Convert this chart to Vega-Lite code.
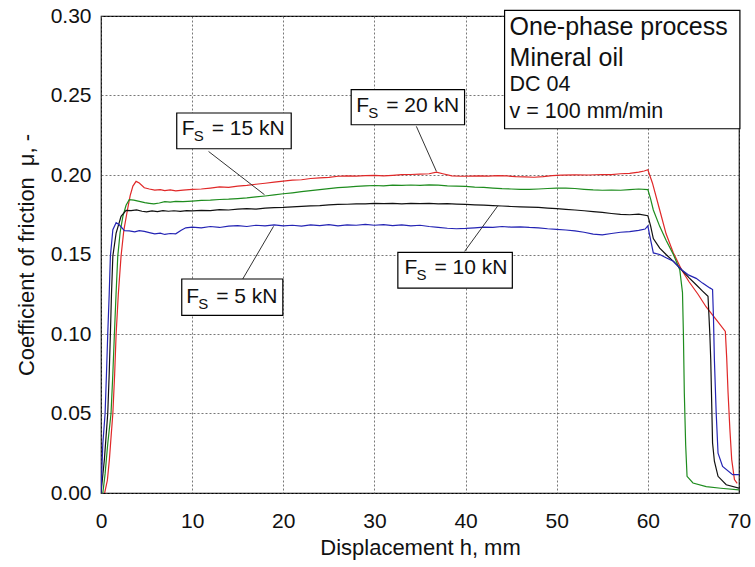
{
  "$schema": "https://vega.github.io/schema/vega-lite/v6.json",
  "width": 638,
  "height": 477,
  "autosize": {"type": "none"},
  "padding": {"left": 101, "top": 16, "right": 16, "bottom": 74},
  "background": "white",
  "config": {
    "font": "Liberation Sans",
    "view": {"stroke": "black", "strokeWidth": 1.2},
    "axis": {
      "domain": false,
      "ticks": false,
      "grid": true,
      "labelFlush": false,
      "gridColor": "#555555",
      "gridDash": [2, 2],
      "gridWidth": 0.8,
      "labelFont": "Liberation Sans",
      "labelFontSize": 21,
      "labelColor": "#111111",
      "titleFont": "Liberation Sans",
      "titleFontSize": 22,
      "titleFontWeight": "normal",
      "titleColor": "#111111"
    }
  },
  "datasets": {
    "curves": [
      {"s":"20 kN","h":0.4,"mu":0.0},{"s":"20 kN","h":0.7,"mu":0.008},{"s":"20 kN","h":0.92,"mu":0.021},{"s":"20 kN","h":1.1,"mu":0.035},{"s":"20 kN","h":1.3,"mu":0.05},{"s":"20 kN","h":1.5,"mu":0.075},{"s":"20 kN","h":1.66,"mu":0.1},{"s":"20 kN","h":1.9,"mu":0.125},{"s":"20 kN","h":2.2,"mu":0.149},{"s":"20 kN","h":2.5,"mu":0.165},{"s":"20 kN","h":2.9,"mu":0.178},{"s":"20 kN","h":3.2,"mu":0.187},{"s":"20 kN","h":3.5,"mu":0.193},{"s":"20 kN","h":3.85,"mu":0.196},{"s":"20 kN","h":4.2,"mu":0.195},{"s":"20 kN","h":4.75,"mu":0.192},{"s":"20 kN","h":5.3,"mu":0.1912},{"s":"20 kN","h":5.9,"mu":0.1905},{"s":"20 kN","h":6.5,"mu":0.1908},{"s":"20 kN","h":7.0,"mu":0.1902},{"s":"20 kN","h":7.6,"mu":0.1906},{"s":"20 kN","h":8.2,"mu":0.19},{"s":"20 kN","h":9.0,"mu":0.1905},{"s":"20 kN","h":10,"mu":0.191},{"s":"20 kN","h":11,"mu":0.1912},{"s":"20 kN","h":12,"mu":0.1918},{"s":"20 kN","h":13,"mu":0.1925},{"s":"20 kN","h":14,"mu":0.1922},{"s":"20 kN","h":15,"mu":0.193},{"s":"20 kN","h":16,"mu":0.1935},{"s":"20 kN","h":17,"mu":0.1942},{"s":"20 kN","h":18,"mu":0.1948},{"s":"20 kN","h":19,"mu":0.1955},{"s":"20 kN","h":20,"mu":0.1962},{"s":"20 kN","h":21,"mu":0.1968},{"s":"20 kN","h":22,"mu":0.197},{"s":"20 kN","h":23,"mu":0.1978},{"s":"20 kN","h":24,"mu":0.1982},{"s":"20 kN","h":25,"mu":0.1985},{"s":"20 kN","h":26,"mu":0.1992},{"s":"20 kN","h":27,"mu":0.1995},{"s":"20 kN","h":28,"mu":0.1993},{"s":"20 kN","h":29,"mu":0.1996},{"s":"20 kN","h":30,"mu":0.1998},{"s":"20 kN","h":31,"mu":0.1995},{"s":"20 kN","h":32,"mu":0.1998},{"s":"20 kN","h":33,"mu":0.2002},{"s":"20 kN","h":34,"mu":0.2003},{"s":"20 kN","h":35,"mu":0.2005},{"s":"20 kN","h":36,"mu":0.2008},{"s":"20 kN","h":36.8,"mu":0.2018},{"s":"20 kN","h":37.5,"mu":0.2008},{"s":"20 kN","h":38.5,"mu":0.1995},{"s":"20 kN","h":39.5,"mu":0.1992},{"s":"20 kN","h":40.5,"mu":0.1993},{"s":"20 kN","h":41.5,"mu":0.1995},{"s":"20 kN","h":42.5,"mu":0.1993},{"s":"20 kN","h":43.5,"mu":0.1996},{"s":"20 kN","h":44.5,"mu":0.1994},{"s":"20 kN","h":45.5,"mu":0.199},{"s":"20 kN","h":46.5,"mu":0.1988},{"s":"20 kN","h":47.5,"mu":0.1986},{"s":"20 kN","h":48.5,"mu":0.199},{"s":"20 kN","h":49.5,"mu":0.1996},{"s":"20 kN","h":50.5,"mu":0.1999},{"s":"20 kN","h":52,"mu":0.2001},{"s":"20 kN","h":53.5,"mu":0.2},{"s":"20 kN","h":55,"mu":0.2003},{"s":"20 kN","h":56,"mu":0.2002},{"s":"20 kN","h":57,"mu":0.2008},{"s":"20 kN","h":58,"mu":0.201},{"s":"20 kN","h":59,"mu":0.2018},{"s":"20 kN","h":59.6,"mu":0.2025},{"s":"20 kN","h":60.0,"mu":0.2033},{"s":"20 kN","h":60.5,"mu":0.195},{"s":"20 kN","h":61.3,"mu":0.178},{"s":"20 kN","h":62.0,"mu":0.163},{"s":"20 kN","h":62.8,"mu":0.151},{"s":"20 kN","h":63.7,"mu":0.1404},{"s":"20 kN","h":64.5,"mu":0.133},{"s":"20 kN","h":65.5,"mu":0.125},{"s":"20 kN","h":66.4,"mu":0.117},{"s":"20 kN","h":67.5,"mu":0.109},{"s":"20 kN","h":68.5,"mu":0.1016},{"s":"20 kN","h":68.65,"mu":0.085},{"s":"20 kN","h":68.8,"mu":0.063},{"s":"20 kN","h":69.0,"mu":0.04},{"s":"20 kN","h":69.2,"mu":0.021},{"s":"20 kN","h":69.5,"mu":0.0084},{"s":"20 kN","h":69.8,"mu":0.006},

      {"s":"15 kN","h":0.2,"mu":0.0},{"s":"15 kN","h":0.45,"mu":0.012},{"s":"15 kN","h":0.74,"mu":0.031},{"s":"15 kN","h":1.1,"mu":0.05},{"s":"15 kN","h":1.3,"mu":0.075},{"s":"15 kN","h":1.47,"mu":0.1},{"s":"15 kN","h":1.65,"mu":0.125},{"s":"15 kN","h":1.84,"mu":0.149},{"s":"15 kN","h":2.1,"mu":0.164},{"s":"15 kN","h":2.4,"mu":0.174},{"s":"15 kN","h":2.75,"mu":0.181},{"s":"15 kN","h":3.1,"mu":0.1845},{"s":"15 kN","h":3.6,"mu":0.1842},{"s":"15 kN","h":4.2,"mu":0.1834},{"s":"15 kN","h":4.8,"mu":0.1826},{"s":"15 kN","h":5.3,"mu":0.1822},{"s":"15 kN","h":5.8,"mu":0.1818},{"s":"15 kN","h":6.4,"mu":0.1824},{"s":"15 kN","h":7.0,"mu":0.1832},{"s":"15 kN","h":7.6,"mu":0.183},{"s":"15 kN","h":8.2,"mu":0.1834},{"s":"15 kN","h":9,"mu":0.1832},{"s":"15 kN","h":10,"mu":0.1836},{"s":"15 kN","h":11,"mu":0.184},{"s":"15 kN","h":12,"mu":0.1842},{"s":"15 kN","h":13,"mu":0.1846},{"s":"15 kN","h":14,"mu":0.1848},{"s":"15 kN","h":15,"mu":0.1852},{"s":"15 kN","h":16,"mu":0.1856},{"s":"15 kN","h":17,"mu":0.1862},{"s":"15 kN","h":18,"mu":0.1868},{"s":"15 kN","h":19,"mu":0.1875},{"s":"15 kN","h":20,"mu":0.1882},{"s":"15 kN","h":21,"mu":0.1888},{"s":"15 kN","h":22,"mu":0.1895},{"s":"15 kN","h":23,"mu":0.1902},{"s":"15 kN","h":24,"mu":0.1908},{"s":"15 kN","h":25,"mu":0.1914},{"s":"15 kN","h":26,"mu":0.192},{"s":"15 kN","h":27,"mu":0.1924},{"s":"15 kN","h":28,"mu":0.1928},{"s":"15 kN","h":29,"mu":0.1932},{"s":"15 kN","h":30,"mu":0.1934},{"s":"15 kN","h":31,"mu":0.1932},{"s":"15 kN","h":32,"mu":0.1936},{"s":"15 kN","h":33,"mu":0.1935},{"s":"15 kN","h":34,"mu":0.1937},{"s":"15 kN","h":35,"mu":0.1935},{"s":"15 kN","h":36,"mu":0.1938},{"s":"15 kN","h":37,"mu":0.1936},{"s":"15 kN","h":38,"mu":0.1932},{"s":"15 kN","h":39,"mu":0.193},{"s":"15 kN","h":40,"mu":0.1928},{"s":"15 kN","h":41,"mu":0.1924},{"s":"15 kN","h":42,"mu":0.1922},{"s":"15 kN","h":43,"mu":0.1918},{"s":"15 kN","h":44,"mu":0.1914},{"s":"15 kN","h":45,"mu":0.1912},{"s":"15 kN","h":46,"mu":0.191},{"s":"15 kN","h":47,"mu":0.191},{"s":"15 kN","h":48,"mu":0.1912},{"s":"15 kN","h":49,"mu":0.1915},{"s":"15 kN","h":50,"mu":0.1918},{"s":"15 kN","h":51,"mu":0.1918},{"s":"15 kN","h":52,"mu":0.1915},{"s":"15 kN","h":53,"mu":0.191},{"s":"15 kN","h":54,"mu":0.1906},{"s":"15 kN","h":55,"mu":0.1904},{"s":"15 kN","h":56,"mu":0.1905},{"s":"15 kN","h":57,"mu":0.1904},{"s":"15 kN","h":58,"mu":0.1908},{"s":"15 kN","h":59,"mu":0.1912},{"s":"15 kN","h":60,"mu":0.1908},{"s":"15 kN","h":60.3,"mu":0.185},{"s":"15 kN","h":60.6,"mu":0.178},{"s":"15 kN","h":61.3,"mu":0.1677},{"s":"15 kN","h":62.0,"mu":0.159},{"s":"15 kN","h":62.8,"mu":0.15},{"s":"15 kN","h":63.5,"mu":0.1404},{"s":"15 kN","h":63.8,"mu":0.126},{"s":"15 kN","h":63.9,"mu":0.1},{"s":"15 kN","h":64.0,"mu":0.063},{"s":"15 kN","h":64.15,"mu":0.03},{"s":"15 kN","h":64.3,"mu":0.0105},{"s":"15 kN","h":64.95,"mu":0.0063},{"s":"15 kN","h":66.4,"mu":0.004},{"s":"15 kN","h":68,"mu":0.003},{"s":"15 kN","h":70,"mu":0.002},

      {"s":"10 kN","h":0,"mu":0.0},{"s":"10 kN","h":0.37,"mu":0.021},{"s":"10 kN","h":0.74,"mu":0.05},{"s":"10 kN","h":0.9,"mu":0.075},{"s":"10 kN","h":1.03,"mu":0.1},{"s":"10 kN","h":1.15,"mu":0.125},{"s":"10 kN","h":1.3,"mu":0.149},{"s":"10 kN","h":1.66,"mu":0.1635},{"s":"10 kN","h":2.2,"mu":0.174},{"s":"10 kN","h":2.75,"mu":0.1778},{"s":"10 kN","h":3.3,"mu":0.1776},{"s":"10 kN","h":3.9,"mu":0.178},{"s":"10 kN","h":4.5,"mu":0.1772},{"s":"10 kN","h":5.0,"mu":0.1768},{"s":"10 kN","h":5.6,"mu":0.1774},{"s":"10 kN","h":6.2,"mu":0.177},{"s":"10 kN","h":6.8,"mu":0.1776},{"s":"10 kN","h":7.4,"mu":0.1772},{"s":"10 kN","h":8.0,"mu":0.1775},{"s":"10 kN","h":8.7,"mu":0.1771},{"s":"10 kN","h":9.4,"mu":0.1776},{"s":"10 kN","h":10,"mu":0.1774},{"s":"10 kN","h":11,"mu":0.1778},{"s":"10 kN","h":12,"mu":0.1776},{"s":"10 kN","h":13,"mu":0.1782},{"s":"10 kN","h":14,"mu":0.178},{"s":"10 kN","h":15,"mu":0.1785},{"s":"10 kN","h":16,"mu":0.1788},{"s":"10 kN","h":17,"mu":0.1786},{"s":"10 kN","h":18,"mu":0.1792},{"s":"10 kN","h":19,"mu":0.1795},{"s":"10 kN","h":20,"mu":0.1796},{"s":"10 kN","h":21,"mu":0.1799},{"s":"10 kN","h":22,"mu":0.1803},{"s":"10 kN","h":23,"mu":0.1806},{"s":"10 kN","h":24,"mu":0.1808},{"s":"10 kN","h":25,"mu":0.1812},{"s":"10 kN","h":26,"mu":0.1815},{"s":"10 kN","h":27,"mu":0.1816},{"s":"10 kN","h":28,"mu":0.1819},{"s":"10 kN","h":29,"mu":0.1818},{"s":"10 kN","h":30,"mu":0.1821},{"s":"10 kN","h":31,"mu":0.182},{"s":"10 kN","h":32,"mu":0.1822},{"s":"10 kN","h":33,"mu":0.1819},{"s":"10 kN","h":34,"mu":0.1821},{"s":"10 kN","h":35,"mu":0.182},{"s":"10 kN","h":36,"mu":0.1822},{"s":"10 kN","h":37,"mu":0.1818},{"s":"10 kN","h":38,"mu":0.182},{"s":"10 kN","h":39,"mu":0.1817},{"s":"10 kN","h":40,"mu":0.1815},{"s":"10 kN","h":41,"mu":0.1812},{"s":"10 kN","h":42,"mu":0.181},{"s":"10 kN","h":43,"mu":0.1808},{"s":"10 kN","h":44,"mu":0.1805},{"s":"10 kN","h":45,"mu":0.1802},{"s":"10 kN","h":46,"mu":0.18},{"s":"10 kN","h":47,"mu":0.1798},{"s":"10 kN","h":48,"mu":0.1796},{"s":"10 kN","h":49,"mu":0.1792},{"s":"10 kN","h":50,"mu":0.1788},{"s":"10 kN","h":51,"mu":0.1784},{"s":"10 kN","h":52,"mu":0.178},{"s":"10 kN","h":53,"mu":0.1775},{"s":"10 kN","h":54,"mu":0.177},{"s":"10 kN","h":55,"mu":0.1765},{"s":"10 kN","h":56,"mu":0.1758},{"s":"10 kN","h":57,"mu":0.1752},{"s":"10 kN","h":58,"mu":0.175},{"s":"10 kN","h":59,"mu":0.1754},{"s":"10 kN","h":60,"mu":0.1744},{"s":"10 kN","h":60.3,"mu":0.168},{"s":"10 kN","h":60.6,"mu":0.16},{"s":"10 kN","h":61.3,"mu":0.154},{"s":"10 kN","h":62.0,"mu":0.15},{"s":"10 kN","h":62.8,"mu":0.1457},{"s":"10 kN","h":63.7,"mu":0.1404},{"s":"10 kN","h":64.5,"mu":0.1355},{"s":"10 kN","h":65.3,"mu":0.131},{"s":"10 kN","h":66.0,"mu":0.127},{"s":"10 kN","h":66.6,"mu":0.1237},{"s":"10 kN","h":66.8,"mu":0.1},{"s":"10 kN","h":66.9,"mu":0.0838},{"s":"10 kN","h":67.1,"mu":0.0314},{"s":"10 kN","h":67.3,"mu":0.02},{"s":"10 kN","h":67.7,"mu":0.0105},{"s":"10 kN","h":68.6,"mu":0.0052},{"s":"10 kN","h":70,"mu":0.003},

      {"s":"5 kN","h":0,"mu":0.0},{"s":"5 kN","h":0.2,"mu":0.031},{"s":"5 kN","h":0.45,"mu":0.05},{"s":"5 kN","h":0.6,"mu":0.075},{"s":"5 kN","h":0.74,"mu":0.1},{"s":"5 kN","h":0.9,"mu":0.125},{"s":"5 kN","h":1.03,"mu":0.149},{"s":"5 kN","h":1.3,"mu":0.1656},{"s":"5 kN","h":1.66,"mu":0.17},{"s":"5 kN","h":2.0,"mu":0.1687},{"s":"5 kN","h":2.57,"mu":0.165},{"s":"5 kN","h":3.1,"mu":0.1648},{"s":"5 kN","h":3.7,"mu":0.1642},{"s":"5 kN","h":4.2,"mu":0.165},{"s":"5 kN","h":4.75,"mu":0.1645},{"s":"5 kN","h":5.3,"mu":0.1638},{"s":"5 kN","h":5.9,"mu":0.163},{"s":"5 kN","h":6.5,"mu":0.1634},{"s":"5 kN","h":7.0,"mu":0.1626},{"s":"5 kN","h":7.6,"mu":0.1632},{"s":"5 kN","h":8.2,"mu":0.163},{"s":"5 kN","h":8.8,"mu":0.1652},{"s":"5 kN","h":9.3,"mu":0.1668},{"s":"5 kN","h":10,"mu":0.1672},{"s":"5 kN","h":11,"mu":0.1668},{"s":"5 kN","h":12,"mu":0.1676},{"s":"5 kN","h":13,"mu":0.167},{"s":"5 kN","h":14,"mu":0.1678},{"s":"5 kN","h":15,"mu":0.1682},{"s":"5 kN","h":16,"mu":0.1676},{"s":"5 kN","h":17,"mu":0.1684},{"s":"5 kN","h":18,"mu":0.168},{"s":"5 kN","h":19,"mu":0.1686},{"s":"5 kN","h":20,"mu":0.168},{"s":"5 kN","h":21,"mu":0.1684},{"s":"5 kN","h":22,"mu":0.1678},{"s":"5 kN","h":23,"mu":0.1686},{"s":"5 kN","h":24,"mu":0.1682},{"s":"5 kN","h":25,"mu":0.1688},{"s":"5 kN","h":26,"mu":0.168},{"s":"5 kN","h":27,"mu":0.1686},{"s":"5 kN","h":28,"mu":0.1684},{"s":"5 kN","h":29,"mu":0.169},{"s":"5 kN","h":30,"mu":0.1684},{"s":"5 kN","h":31,"mu":0.1688},{"s":"5 kN","h":32,"mu":0.1682},{"s":"5 kN","h":33,"mu":0.1686},{"s":"5 kN","h":34,"mu":0.168},{"s":"5 kN","h":35,"mu":0.1684},{"s":"5 kN","h":36,"mu":0.1676},{"s":"5 kN","h":37,"mu":0.167},{"s":"5 kN","h":38,"mu":0.1665},{"s":"5 kN","h":39,"mu":0.1662},{"s":"5 kN","h":40,"mu":0.1664},{"s":"5 kN","h":41,"mu":0.1668},{"s":"5 kN","h":42,"mu":0.1672},{"s":"5 kN","h":43,"mu":0.167},{"s":"5 kN","h":44,"mu":0.1676},{"s":"5 kN","h":45,"mu":0.1672},{"s":"5 kN","h":46,"mu":0.1674},{"s":"5 kN","h":47,"mu":0.167},{"s":"5 kN","h":48,"mu":0.1668},{"s":"5 kN","h":49,"mu":0.1662},{"s":"5 kN","h":50,"mu":0.1658},{"s":"5 kN","h":51,"mu":0.1654},{"s":"5 kN","h":52,"mu":0.1648},{"s":"5 kN","h":53,"mu":0.164},{"s":"5 kN","h":54,"mu":0.1628},{"s":"5 kN","h":55,"mu":0.1624},{"s":"5 kN","h":56,"mu":0.1632},{"s":"5 kN","h":57,"mu":0.164},{"s":"5 kN","h":58,"mu":0.1644},{"s":"5 kN","h":59,"mu":0.1652},{"s":"5 kN","h":59.7,"mu":0.166},{"s":"5 kN","h":60.0,"mu":0.168},{"s":"5 kN","h":60.2,"mu":0.162},{"s":"5 kN","h":60.6,"mu":0.151},{"s":"5 kN","h":61.3,"mu":0.15},{"s":"5 kN","h":62.0,"mu":0.148},{"s":"5 kN","h":62.8,"mu":0.1457},{"s":"5 kN","h":63.7,"mu":0.1404},{"s":"5 kN","h":64.5,"mu":0.137},{"s":"5 kN","h":65.3,"mu":0.135},{"s":"5 kN","h":66.0,"mu":0.132},{"s":"5 kN","h":66.8,"mu":0.129},{"s":"5 kN","h":67.1,"mu":0.128},{"s":"5 kN","h":67.2,"mu":0.11},{"s":"5 kN","h":67.3,"mu":0.0838},{"s":"5 kN","h":67.5,"mu":0.05},{"s":"5 kN","h":67.7,"mu":0.025},{"s":"5 kN","h":68.2,"mu":0.0167},{"s":"5 kN","h":69.3,"mu":0.0115},{"s":"5 kN","h":70,"mu":0.0115}
    ],
    "boxes": [
      {"x1":8.31,"x2":20.87,"y1":0.239,"y2":0.2165},
      {"x1":27.45,"x2":39.89,"y1":0.2537,"y2":0.2316},
      {"x1":32.57,"x2":45.13,"y1":0.1513,"y2":0.1289},
      {"x1":8.86,"x2":19.95,"y1":0.1346,"y2":0.1117}
    ],
    "leaders": [
      {"x1":11.8,"y1":0.2148,"x2":17.94,"y2":0.1876},
      {"x1":34.6,"y1":0.2306,"x2":36.8,"y2":0.2023},
      {"x1":39.9,"y1":0.152,"x2":43.55,"y2":0.1807},
      {"x1":15.55,"y1":0.1346,"x2":18.93,"y2":0.1677}
    ],
    "labels": [
      {"x":8.86,"y":0.2253,"rest":"= 15 kN"},
      {"x":28.0,"y":0.2394,"rest":"= 20 kN"},
      {"x":33.3,"y":0.1377,"rest":"= 10 kN"},
      {"x":9.34,"y":0.1195,"rest":"= 5 kN"}
    ],
    "infobox": [
      {"x1":44.28,"x2":70.1,"y1":0.3035,"y2":0.2291}
    ],
    "info": [
      {"x":44.83,"y":0.2878,"t":"One-phase process","kind":"big"},
      {"x":44.83,"y":0.2683,"t":"Mineral oil","kind":"big"},
      {"x":44.83,"y":0.2526,"t":"DC 04","kind":"small"},
      {"x":44.83,"y":0.2358,"t":"v = 100 mm/min","kind":"small"}
    ]
  },
  "layer": [
    {
      "data": {"name": "curves"},
      "mark": {"type": "line", "strokeWidth": 1.2, "clip": true},
      "encoding": {
        "x": {"field": "h", "type": "quantitative", "scale": {"domain": [0, 70], "nice": false},
              "axis": {"values": [0,10,20,30,40,50,60,70], "title": "Displacement h, mm", "labelPadding": 17, "titlePadding": 6, "format": "d"}},
        "y": {"field": "mu", "type": "quantitative", "scale": {"domain": [0, 0.3], "nice": false},
              "axis": {"values": [0,0.05,0.1,0.15,0.2,0.25,0.3], "format": ".2f", "title": "Coefficient of friction\u2002μ, -", "labelPadding": 10, "titlePadding": 12}},
        "color": {"field": "s", "type": "nominal", "legend": null,
                  "scale": {"domain": ["5 kN","10 kN","15 kN","20 kN"], "range": ["#2424b4","#111111","#1e8c1e","#e02828"]}}
      }
    },
    {
      "data": {"name": "leaders"},
      "mark": {"type": "rule", "color": "#333333", "strokeWidth": 1},
      "encoding": {
        "x": {"field": "x1", "type": "quantitative"},
        "y": {"field": "y1", "type": "quantitative"},
        "x2": {"field": "x2"},
        "y2": {"field": "y2"}
      }
    },
    {
      "data": {"name": "boxes"},
      "mark": {"type": "rect", "fill": "white", "stroke": "black", "strokeWidth": 1.2},
      "encoding": {
        "x": {"field": "x1", "type": "quantitative"},
        "x2": {"field": "x2"},
        "y": {"field": "y1", "type": "quantitative"},
        "y2": {"field": "y2"}
      }
    },
    {
      "data": {"name": "infobox"},
      "mark": {"type": "rect", "fill": "white", "stroke": "black", "strokeWidth": 1.2},
      "encoding": {
        "x": {"field": "x1", "type": "quantitative"},
        "x2": {"field": "x2"},
        "y": {"field": "y1", "type": "quantitative"},
        "y2": {"field": "y2"}
      }
    },
    {
      "data": {"name": "labels"},
      "mark": {"type": "text", "text": "F", "align": "left", "baseline": "alphabetic", "fontSize": 21, "color": "#111111"},
      "encoding": {
        "x": {"field": "x", "type": "quantitative"},
        "y": {"field": "y", "type": "quantitative"}
      }
    },
    {
      "data": {"name": "labels"},
      "mark": {"type": "text", "text": "S", "align": "left", "baseline": "alphabetic", "fontSize": 15, "dx": 12, "dy": 6, "color": "#111111"},
      "encoding": {
        "x": {"field": "x", "type": "quantitative"},
        "y": {"field": "y", "type": "quantitative"}
      }
    },
    {
      "data": {"name": "labels"},
      "mark": {"type": "text", "align": "left", "baseline": "alphabetic", "fontSize": 21, "dx": 30, "color": "#111111"},
      "encoding": {
        "x": {"field": "x", "type": "quantitative"},
        "y": {"field": "y", "type": "quantitative"},
        "text": {"field": "rest"}
      }
    },
    {
      "data": {"name": "info"},
      "transform": [{"filter": "datum.kind == 'big'"}],
      "mark": {"type": "text", "align": "left", "baseline": "alphabetic", "fontSize": 25, "color": "#111111"},
      "encoding": {
        "x": {"field": "x", "type": "quantitative"},
        "y": {"field": "y", "type": "quantitative"},
        "text": {"field": "t"}
      }
    },
    {
      "data": {"name": "info"},
      "transform": [{"filter": "datum.kind == 'small'"}],
      "mark": {"type": "text", "align": "left", "baseline": "alphabetic", "fontSize": 21.5, "color": "#111111"},
      "encoding": {
        "x": {"field": "x", "type": "quantitative"},
        "y": {"field": "y", "type": "quantitative"},
        "text": {"field": "t"}
      }
    }
  ]
}
